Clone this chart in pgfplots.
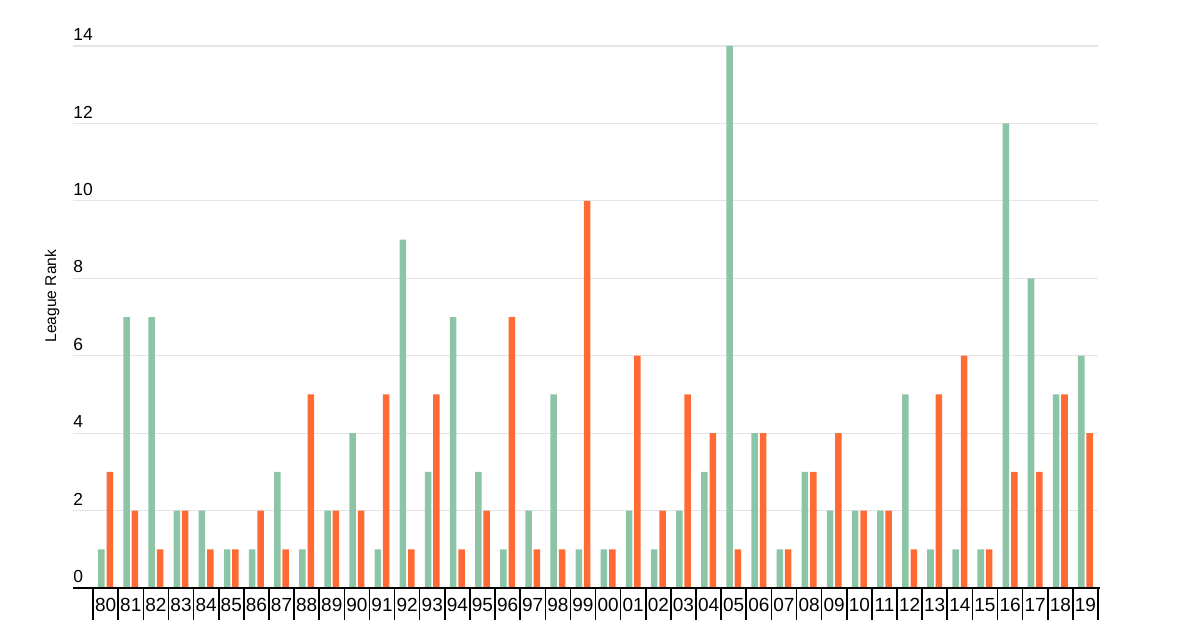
\documentclass[border=0pt]{standalone}
\usepackage{pgfplots}
\pgfplotsset{compat=1.18}
\usepackage{fontspec}
\setmainfont{Liberation Sans}
\definecolor{cgreen}{HTML}{8CC5A5}
\definecolor{corange}{HTML}{FF6A35}
\definecolor{cgrid}{HTML}{E4E4E4}
\begin{document}
\begin{tikzpicture}
\useasboundingbox (0,0) rectangle (600pt,314pt);
\begin{axis}[
  at={(36.5pt,20pt)}, anchor=south west,
  scale only axis, width=513.5pt, height=271pt,
  xmin=-1.3, xmax=39.58, ymin=0, ymax=14,
  axis y line=none, axis x line=none,
  ybar, bar width=0.26,
  xtick=\empty, ytick=\empty,
  clip=false,
]
\pgfplotsinvokeforeach{2,4,...,14}{
  \draw[cgrid, line width=0.6pt] (axis cs:-1.3,#1) -- (axis cs:39.5,#1);
}
\pgfplotsinvokeforeach{0,2,...,14}{
  \node[anchor=base west, inner sep=0pt, font=\fontsize{8.7}{10}\selectfont, yshift=2.7pt] at (axis cs:-1.3,#1) {#1};
}
\addplot[draw=none, fill=cgreen, bar shift=-0.167] coordinates {
(0,1)(1,7)(2,7)(3,2)(4,2)(5,1)(6,1)(7,3)(8,1)(9,2)
(10,4)(11,1)(12,9)(13,3)(14,7)(15,3)(16,1)(17,2)(18,5)(19,1)
(20,1)(21,2)(22,1)(23,2)(24,3)(25,14)(26,4)(27,1)(28,3)(29,2)
(30,2)(31,2)(32,5)(33,1)(34,1)(35,1)(36,12)(37,8)(38,5)(39,6)};
\addplot[draw=none, fill=corange, bar shift=0.167] coordinates {
(0,3)(1,2)(2,1)(3,2)(4,1)(5,1)(6,2)(7,1)(8,5)(9,2)
(10,2)(11,5)(12,1)(13,5)(14,1)(15,2)(16,7)(17,1)(18,1)(19,10)
(20,1)(21,6)(22,2)(23,5)(24,4)(25,1)(26,4)(27,1)(28,3)(29,4)
(30,2)(31,2)(32,1)(33,5)(34,6)(35,1)(36,3)(37,3)(38,5)(39,4)};
\draw[black, line width=1.1pt] (axis cs:-1.3,0) -- (axis cs:39.58,0);
\pgfplotsinvokeforeach{-0.5,0.5,...,39.5}{
  \draw[black, line width=0.8pt] (axis cs:#1,0) -- ++(0pt,-16pt);
}
\foreach \lab [count=\i from 0] in {80,81,82,83,84,85,86,87,88,89,90,91,92,93,94,95,96,97,98,99,00,01,02,03,04,05,06,07,08,09,10,11,12,13,14,15,16,17,18,19}{
  \edef\tmp{\noexpand\node[font=\noexpand\fontsize{9.5}{10}\noexpand\selectfont, inner sep=0pt] at (axis cs:\i,0) [yshift=-8.5pt] {\lab};}
  \tmp
}
\end{axis}
\node[rotate=90, font=\fontsize{7.8}{9}\selectfont, inner sep=0pt] at (26pt,166pt) {League Rank};
\end{tikzpicture}
\end{document}
